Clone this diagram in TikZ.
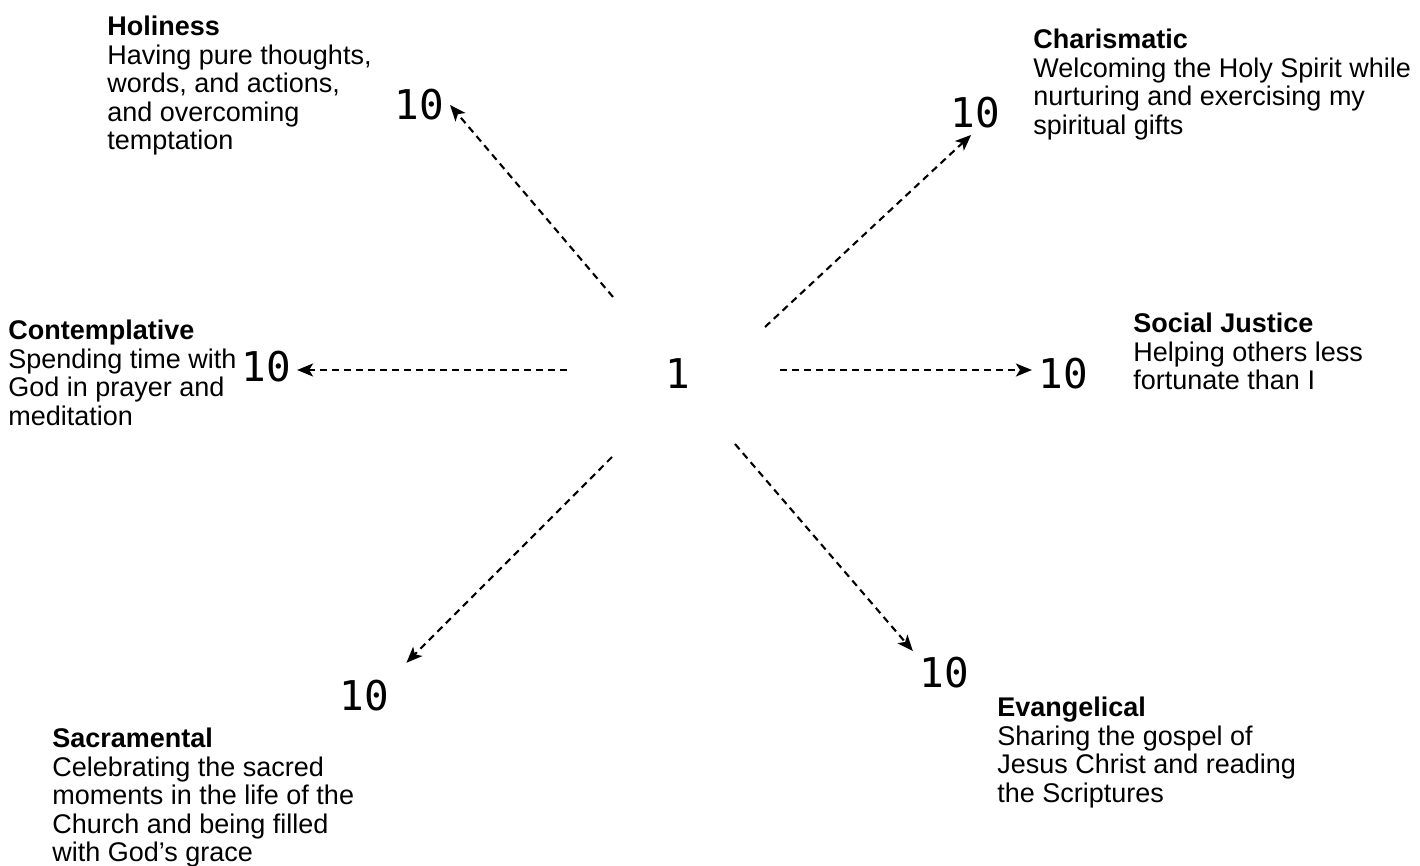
\documentclass[tikz,border=0pt]{standalone}
\usepackage{fontspec}
\setmainfont{Liberation Sans}
\newfontfamily\numfont{DejaVu Sans Mono}
\usetikzlibrary{arrows.meta,calc,positioning}
\tikzset{
  desc/.style={anchor=north west,align=left,inner sep=0pt,
               font=\fontsize{13.5pt}{14.25pt}\selectfont},
  num/.style={inner sep=3pt,font=\numfont\fontsize{20.5pt}{24pt}\selectfont},
  ln/.style={-{Stealth[length=8pt,width=6.5pt,inset=2pt]},line width=1.05pt,
             dash pattern=on 3.5pt off 2.5pt},
}

\begin{document}
\begin{tikzpicture}[x=0.5pt,y=-0.5pt]
\useasboundingbox (0,0) rectangle (1420,866);

% scale values
\node[num] (one) at (678,374) {1};
\node[num] (hol) at (419,105) {10};
\node[num] (cha) at (975,113) {10};
\node[num] (con) at (266,367) {10};
\node[num] (soc) at (1063,374) {10};
\node[num] (sac) at (364,696) {10};
\node[num] (eva) at (944,673) {10};

% where the dashed lines leave the centre
\coordinate (hs) at ($(one)+(-65,-77)$);
\coordinate (cs) at ($(one)+(87,-47)$);
\coordinate (ms) at ($(one)+(-111,-4)$);
\coordinate (ss) at ($(one)+(102,-4)$);
\coordinate (rs) at ($(one)+(-66,83)$);
\coordinate (es) at ($(one)+(57,70)$);

\draw[ln] (hs) -- (hol.east);
\draw[ln] (cs) -- (cha.-100);
\draw[ln] (ms) -- (ms -| con.east);
\draw[ln] (ss) -- (ss -| soc.west);
\draw[ln,shorten >=8pt] (rs) -- (sac.north east);
\draw[ln] (es) -- (eva.north west);

% descriptions
\node[desc] (holtxt) at (107,16) {\textbf{Holiness}\\Having pure thoughts,\\words, and actions,\\and overcoming\\temptation};
\node[desc] (chatxt) at (1033,29) {\textbf{Charismatic}\\Welcoming the Holy Spirit while\\nurturing and exercising my\\spiritual gifts};
\node[desc] (contxt) at (8,320) {\textbf{Contemplative}\\Spending time with\\God in prayer and\\meditation};
\node[desc] (soctxt) at (1133,313) {\textbf{Social Justice}\\Helping others less\\fortunate than I};
\node[desc] (sactxt) at (52,728) {\textbf{Sacramental}\\Celebrating the sacred\\moments in the life of the\\Church and being filled\\with God’s grace};
\node[desc] (evatxt) at (997,697) {\textbf{Evangelical}\\Sharing the gospel of\\Jesus Christ and reading\\the Scriptures};
\end{tikzpicture}
\end{document}
